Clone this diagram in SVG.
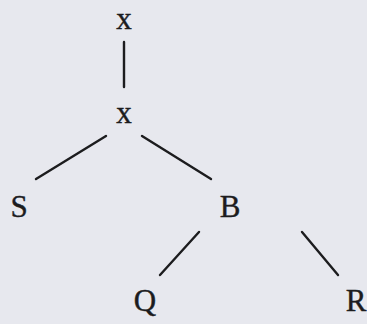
<svg xmlns="http://www.w3.org/2000/svg" width="367" height="324" viewBox="0 0 367 324">
<style>
.lbl{font-family:"Liberation Serif","Times New Roman",serif;font-size:31px;fill:#1c1c1e;stroke:#1c1c1e;stroke-width:0.4;text-anchor:middle}
.edge{stroke:#1c1c1e;stroke-width:2.4;stroke-linecap:round;fill:none}
</style>
<rect width="367" height="324" fill="#e7e8ee"/>
<g id="connectors">
<line class="edge" x1="124" y1="42" x2="124" y2="87"/>
<line class="edge" x1="106" y1="136" x2="36" y2="179"/>
<line class="edge" x1="142" y1="136" x2="211" y2="179"/>
<line class="edge" x1="199" y1="232" x2="160" y2="275"/>
<line class="edge" x1="302" y1="232" x2="338" y2="275"/>
</g>
<g id="node-x-top"><text class="lbl" x="124" y="28.5">x</text></g>
<g id="node-x"><text class="lbl" x="124" y="123">x</text></g>
<g id="node-S"><text class="lbl" x="19" y="217">S</text></g>
<g id="node-B"><text class="lbl" x="230" y="217">B</text></g>
<g id="node-Q"><text class="lbl" x="145" y="311">Q</text></g>
<g id="node-R"><text class="lbl" x="356" y="311">R</text></g>
</svg>
